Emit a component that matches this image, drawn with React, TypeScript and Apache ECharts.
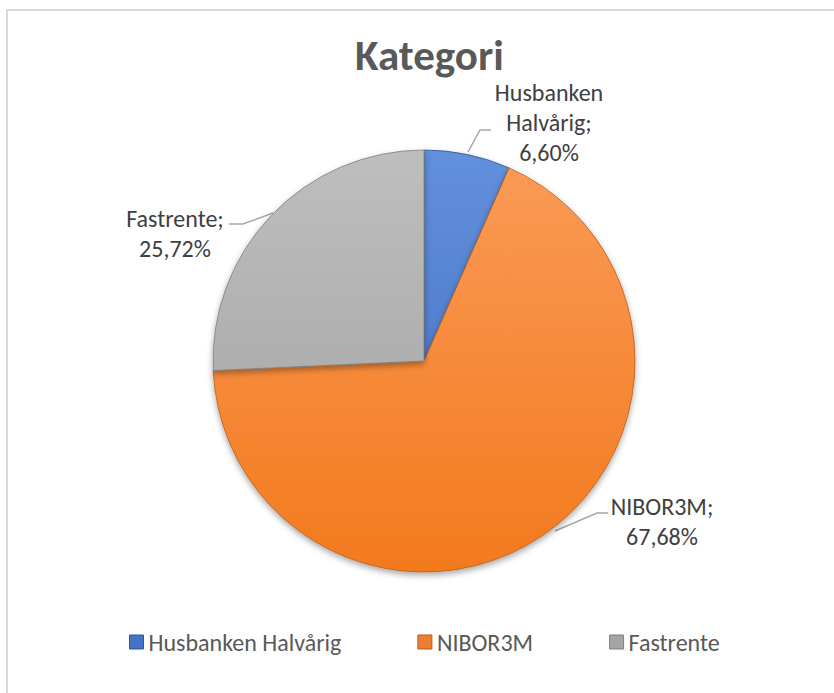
import React, { useEffect, useRef } from "react";
import * as echarts from "echarts";

const categories = ["Husbanken Halvårig", "NIBOR3M", "Fastrente"];
const shares = [6.6, 67.68, 25.72];
const titleText = "Kategori";

const baseColors = ["#4472C4", "#ED7D31", "#A5A5A5"];
const topColors = ["#6290DC", "#FB9B57", "#BEBEBE"];
const bottomColors = ["#3F6CBE", "#F27A1E", "#A0A0A0"];
const edgeColors = ["#2F5597", "#B85A16", "#7F7F7F"];

const FONT = "Carlito, Lato, 'Open Sans', sans-serif";

const labelSpots = [
  { x: 549, y: 122, line: [[468, 152], [480, 130], [491, 130]] },
  { x: 662, y: 521, line: [[555, 531], [597, 513], [608, 513]] },
  { x: 175, y: 233, line: [[273, 213], [243, 224], [229, 224]] },
];

export default function App() {
  const ref = useRef<HTMLDivElement>(null);
  useEffect(() => {
    if (!ref.current) return;
    const chart = echarts.init(ref.current, null, { renderer: "svg" });
    const cx = 424;
    const cy = 361;
    const r = 211;
    const grad = (i: number) => ({
      type: "linear",
      global: true,
      x: 0,
      y: cy - r,
      x2: 0,
      y2: cy + r,
      colorStops: [
        { offset: 0, color: topColors[i] },
        { offset: 1, color: bottomColors[i] },
      ],
    });
    chart.setOption({
      animation: false,
      backgroundColor: "#ffffff",
      title: {
        text: titleText,
        left: 350,
        top: 29,
        textStyle: {
          fontFamily: FONT,
          fontSize: 43,
          fontWeight: "bold",
          color: "#595959",
        },
      },
      graphic: [
        {
          type: "rect",
          z: -10,
          shape: { x: 7, y: 10, width: 900, height: 900 },
          style: { fill: "none", stroke: "#d9d9d9", lineWidth: 2 },
        },
      ],
      legend: {
        data: categories.map((c, i) => ({
          name: c,
          itemStyle: { color: baseColors[i], borderColor: edgeColors[i], borderWidth: 1 },
        })),
        bottom: 39,
        left: 129,
        padding: 0,
        icon: "rect",
        itemWidth: 14,
        itemHeight: 14,
        itemGap: 76,
        textStyle: { fontFamily: FONT, fontSize: 24, color: "#595959" },
      },
      series: [
        {
          type: "pie",
          center: [cx, cy],
          radius: [0, r],
          startAngle: 90,
          clockwise: true,
          data: categories.map((c, i) => ({
            name: c,
            value: shares[i],
            itemStyle: {
              color: grad(i),
              borderColor: edgeColors[i],
              borderWidth: 0.8,
              shadowBlur: 6,
              shadowOffsetY: 3,
              shadowColor: "rgba(0,0,0,0.35)",
            },
          })),
          label: {
            show: true,
            fontFamily: FONT,
            fontSize: 24,
            lineHeight: 30,
            color: "#404040",
            align: "center",
            formatter: (p: any) => {
              const name = p.dataIndex === 0 ? p.name.replace(" ", "\n") : p.name;
              return name + ";\n" + p.value.toFixed(2).replace(".", ",") + "%";
            },
          },
          labelLine: {
            show: true,
            lineStyle: { color: "#a6a6a6", width: 1.5 },
          },
          labelLayout: (p: any) => {
            const s = labelSpots[p.dataIndex];
            return {
              x: s.x,
              y: s.y,
              align: "center",
              verticalAlign: "middle",
              labelLinePoints: s.line,
            };
          },
          emphasis: { disabled: true },
        },
      ],
    });
    return () => chart.dispose();
  }, []);
  return (
    <div
      ref={ref}
      style={{ position: "absolute", left: 0, top: 0, width: 834, height: 693 }}
    />
  );
}
